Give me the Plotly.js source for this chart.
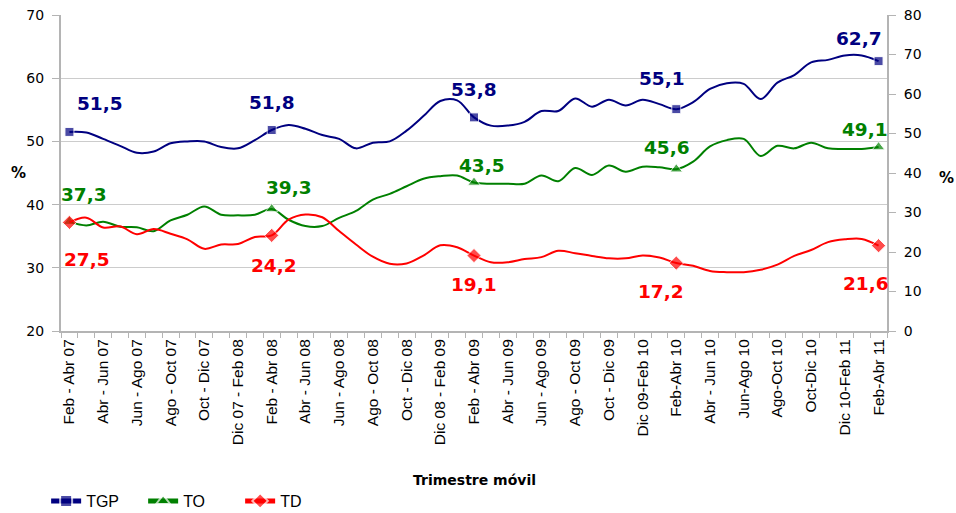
<!DOCTYPE html>
<html>
<head>
<meta charset="utf-8">
<script src="https://cdn.plot.ly/plotly-3.0.1.min.js"></script>
<style>html,body{margin:0;padding:0;background:#fff;}#chart{width:956px;height:513px;}</style>
</head>
<body>
<div id="chart"></div>
<script>
// Moving quarters (trimestre móvil), Feb-Abr 07 .. Feb-Abr 11
var categories = [
  "Feb - Abr 07","Mar - May 07","Abr - Jun 07","May - Jul 07","Jun - Ago 07","Jul - Sep 07",
  "Ago - Oct 07","Sep - Nov 07","Oct - Dic 07","Nov 07 - Ene 08","Dic 07 - Feb 08","Ene - Mar 08",
  "Feb - Abr 08","Mar - May 08","Abr - Jun 08","May - Jul 08","Jun - Ago 08","Jul - Sep 08",
  "Ago - Oct 08","Sep - Nov 08","Oct - Dic 08","Nov 08 - Ene 09","Dic 08 - Feb 09","Ene - Mar 09",
  "Feb - Abr 09","Mar - May 09","Abr - Jun 09","May - Jul 09","Jun - Ago 09","Jul - Sep 09",
  "Ago - Oct 09","Sep - Nov 09","Oct - Dic 09","Nov 09-Ene 10","Dic 09-Feb 10","Ene-Mar 10",
  "Feb-Abr 10","Mar-May 10","Abr - Jun 10","May-Jul 10","Jun-Ago 10","Jul-Sep 10",
  "Ago-Oct 10","Sep-Nov 10","Oct-Dic 10","Nov 10-Ene 11","Dic 10-Feb 11","Ene-Mar 11",
  "Feb-Abr 11"
];
// Tick labels shown on the axis (every second quarter)
var tickLabels = [
  "Feb - Abr 07","","Abr - Jun 07","","Jun - Ago 07","","Ago - Oct 07","","Oct - Dic 07","",
  "Dic 07 - Feb 08","","Feb - Abr 08","","Abr - Jun 08","","Jun - Ago 08","","Ago - Oct 08","",
  "Oct - Dic 08","","Dic 08 - Feb 09","","Feb - Abr 09","","Abr - Jun 09","","Jun - Ago 09","",
  "Ago - Oct 09","","Oct - Dic 09","","Dic 09-Feb 10","","Feb-Abr 10","","Abr - Jun 10","",
  "Jun-Ago 10","","Ago-Oct 10","","Oct-Dic 10","","Dic 10-Feb 11","","Feb-Abr 11"
];
// TGP (left axis)
var tgp = [51.5,51.4,50.4,49.3,48.2,48.4,49.7,50.0,50.0,49.1,48.9,50.2,
           51.8,52.6,52.0,51.0,50.4,48.9,49.8,50.0,51.7,54.0,56.4,56.5,
           53.8,52.5,52.5,53.1,54.8,54.8,56.8,55.5,56.6,55.7,56.6,55.9,
           55.1,56.2,58.3,59.2,59.1,56.7,59.3,60.5,62.5,62.9,63.6,63.6,62.7];
// TO (left axis)
var to = [37.3,36.7,37.3,36.5,36.4,35.8,37.5,38.4,39.7,38.4,38.3,38.4,
          39.3,37.6,36.6,36.6,37.9,39.0,40.8,41.7,42.9,44.1,44.5,44.6,
          43.5,43.3,43.3,43.3,44.6,43.7,45.8,44.7,46.2,45.2,46.0,45.9,
          45.6,46.8,49.2,50.2,50.4,47.7,49.3,48.9,49.8,48.9,48.8,48.8,49.1];
// TD (right axis)
var td = [27.5,28.7,26.2,26.5,24.5,25.8,24.6,23.2,20.8,21.9,22.0,23.8,
          24.2,28.2,29.5,28.8,25.3,21.9,18.8,17.0,17.1,19.1,21.7,21.2,
          19.1,17.4,17.4,18.2,18.7,20.3,19.7,19.0,18.4,18.4,19.1,18.6,
          17.2,16.5,15.2,14.9,14.9,15.5,16.8,19.0,20.5,22.5,23.2,23.3,21.6];
// Points that carry a marker and a value label
var labelIdx = [0,12,24,36,48];

var seriesNames = ["TGP","TO","TD"];
var colors = {TGP:"#000080", TO:"#008000", TD:"#FF0000"};
var symbols = {TGP:"square", TO:"triangle-up", TD:"diamond"};

function markerSizes(sz){
  return categories.map(function(c,i){ return labelIdx.indexOf(i) >= 0 ? sz : 0; });
}

var traces = [
  {name:"TGP", x:categories, y:tgp, yaxis:"y", type:"scatter", mode:"lines+markers",
   line:{color:colors.TGP, width:2, shape:"spline", smoothing:1},
   marker:{symbol:symbols.TGP, size:markerSizes(9), color:colors.TGP}},
  {name:"TO", x:categories, y:to, yaxis:"y", type:"scatter", mode:"lines+markers",
   line:{color:colors.TO, width:2, shape:"spline", smoothing:1},
   marker:{symbol:symbols.TO, size:markerSizes(11), color:colors.TO}},
  {name:"TD", x:categories, y:td, yaxis:"y2", type:"scatter", mode:"lines+markers",
   line:{color:colors.TD, width:2, shape:"spline", smoothing:1},
   marker:{symbol:symbols.TD, size:markerSizes(11), color:colors.TD}}
];

// label offsets in px (layout only)
var shifts = {
  TGP: [[31,28],[0,28],[0,28],[-14,31],[-20,23]],
  TO:  [[15,27],[17,22],[8,17],[-9,22],[-14,18]],
  TD:  [[18,-37],[2,-30],[0,-29],[-15,-28],[-13,-38]]
};
var dataBySeries = {TGP:tgp, TO:to, TD:td};
var annotations = [];
seriesNames.forEach(function(s){
  labelIdx.forEach(function(idx,k){
    var v = dataBySeries[s][idx];
    annotations.push({
      x: categories[idx], y: v, xref:"x", yref: s === "TD" ? "y2" : "y",
      text: v.toFixed(1).replace(".", ","), showarrow:false,
      xshift: shifts[s][k][0], yshift: shifts[s][k][1],
      font:{family:"DejaVu Sans", size:18.5, color:colors[s], weight:"bold"}
    });
  });
});
annotations.push({text:"<b>%</b>", xref:"paper", yref:"paper", x:-0.052, y:0.5, showarrow:false,
  font:{family:"DejaVu Sans", size:15, color:"#000"}, xanchor:"center"});
annotations.push({text:"<b>%</b>", xref:"paper", yref:"paper", x:1.072, y:0.485, showarrow:false,
  font:{family:"DejaVu Sans", size:15, color:"#000"}, xanchor:"center"});
annotations.push({text:"<b>Trimestre móvil</b>", xref:"paper", yref:"paper", x:0.5, y:-0.47,
  showarrow:false, font:{family:"DejaVu Sans", size:14, color:"#000"}, xanchor:"center", yanchor:"middle"});

var layout = {
  width:956, height:513,
  margin:{l:61, r:69, t:15, b:182, autoexpand:false},
  paper_bgcolor:"#fff", plot_bgcolor:"#fff",
  showlegend:true,
  legend:{orientation:"h", x:-0.018, y:-0.538, xanchor:"left", yanchor:"middle",
          font:{family:"Liberation Sans", size:16, color:"#000"}, itemsizing:"constant",
          entrywidth:52, entrywidthmode:"pixels", tracegroupgap:0},
  xaxis:{type:"category", tickmode:"array", tickvals:categories, ticktext:tickLabels,
         tickangle:-90, tickson:"boundaries", ticks:"outside", ticklen:5, tickcolor:"#b4b4b4",
         showline:true, linecolor:"#b4b4b4", linewidth:2, showgrid:false, zeroline:false,
         tickfont:{family:"Liberation Sans", size:15.5, color:"#000"}, range:[-0.5,48.5]},
  yaxis:{range:[20,70], dtick:10, tick0:20, showgrid:true, gridcolor:"#cccccc", gridwidth:1,
         showline:true, linecolor:"#b4b4b4", linewidth:2, ticks:"outside", ticklen:7, tickcolor:"#b4b4b4",
         ticklabelstandoff:5,
         zeroline:false, tickfont:{family:"DejaVu Sans", size:14, color:"#000"}},
  yaxis2:{range:[0,80], dtick:10, tick0:0, overlaying:"y", side:"right", showgrid:false,
          showline:true, linecolor:"#b4b4b4", linewidth:2, ticks:"outside", ticklen:7, tickcolor:"#b4b4b4",
          ticklabelstandoff:5,
          zeroline:false, tickfont:{family:"DejaVu Sans", size:14, color:"#000"}},
  annotations: annotations
};

Plotly.newPlot("chart", traces, layout, {staticPlot:true, displayModeBar:false});
</script>
</body>
</html>
